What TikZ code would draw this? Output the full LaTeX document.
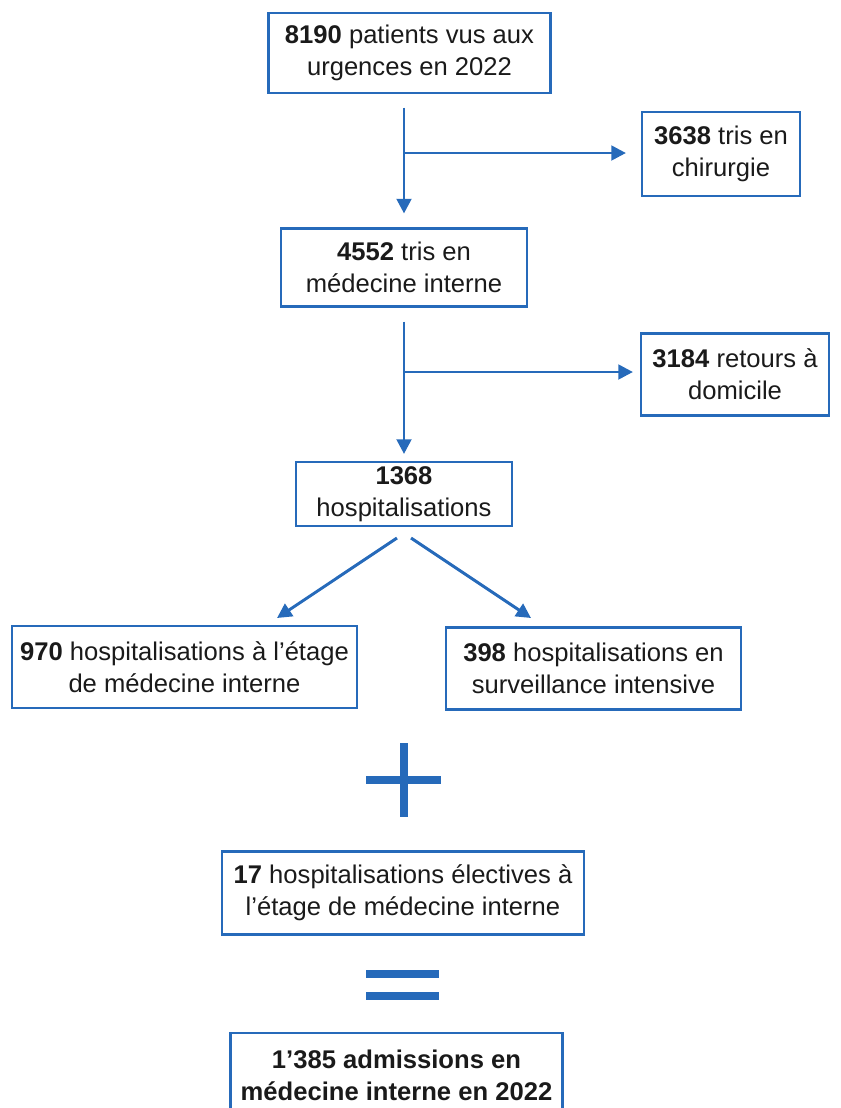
\documentclass[tikz,border=0pt]{standalone}
\usepackage{fontspec}
\setmainfont{Liberation Sans}
\usetikzlibrary{arrows.meta}
\definecolor{flowblue}{RGB}{38,106,186}
\definecolor{textgray}{RGB}{26,26,26}

\begin{document}
\begin{tikzpicture}[x=0.75pt,y=-0.75pt,>={Triangle[length=11pt,width=11pt]},
	box/.style={draw=flowblue,line width=2.1pt,align=center,inner sep=0pt,text=textgray,font=\fontsize{19.2}{24}\selectfont},
	flow/.style={->,draw=flowblue,line width=2.2pt},
	sign/.style={draw=flowblue,line width=5.5pt}]
	\clip (0,0) rectangle (840,1108);
	% main column
	\node[box,minimum width=212pt,minimum height=60pt] (urg) at (409.5,53) {\textbf{8190} patients vus aux\\urgences en 2022};
	\node[box,minimum width=184.5pt,minimum height=59pt] (tri) at (404,267.5) {\textbf{4552} tris en\\médecine interne};
	\node[box,minimum width=162pt,minimum height=48pt] (hosp) at (404,494) {\textbf{1368}\\hospitalisations};
	% side boxes
	\node[box,minimum width=118.5pt,minimum height=63pt] (chir) at (721,154) {\textbf{3638} tris en\\chirurgie};
	\node[box,minimum width=141pt,minimum height=62pt] (dom) at (735,374.5) {\textbf{3184} retours à\\domicile};
	\node[box,minimum width=258.75pt,minimum height=61.5pt] (etage) at (184.5,667) {\textbf{970} hospitalisations à l’étage\\de médecine interne};
	\node[box,minimum width=221.25pt,minimum height=62pt] (si) at (593.5,668.5) {\textbf{398} hospitalisations en\\surveillance intensive};
	\node[box,minimum width=271.5pt,minimum height=62pt] (elec) at (403,893) {\textbf{17} hospitalisations électives à\\l’étage de médecine interne};
	\node[box,minimum width=249pt,minimum height=63pt] (adm) at (396.5,1075) {\textbf{1’385 admissions en}\\\textbf{médecine interne en 2022}};
	% connectors
	\draw[flow,shorten <=10pt,shorten >=10pt] (tri.north |- urg.south) -- (tri.north);
	\coordinate (b1) at (404,153);
	\draw[flow,shorten >=11pt] (b1) -- (b1 -| chir.west);
	\draw[flow,shorten <=10pt,shorten >=5pt] (hosp.north |- tri.south) -- (hosp.north);
	\coordinate (b2) at (404,372);
	\draw[flow,shorten >=5pt] (b2) -- (b2 -| dom.west);
	\coordinate (s1) at (397,538);
	\coordinate (s2) at (411,538);
	\draw[flow] (s1) -- (277,618);
	\draw[flow] (s2) -- (531,618);
	% plus and equal signs
	\draw[sign] (366,780) -- (441,780) (404,743) -- (404,817);
	\draw[sign] (366,974) -- (439,974) (366,996) -- (439,996);
\end{tikzpicture}
\end{document}
